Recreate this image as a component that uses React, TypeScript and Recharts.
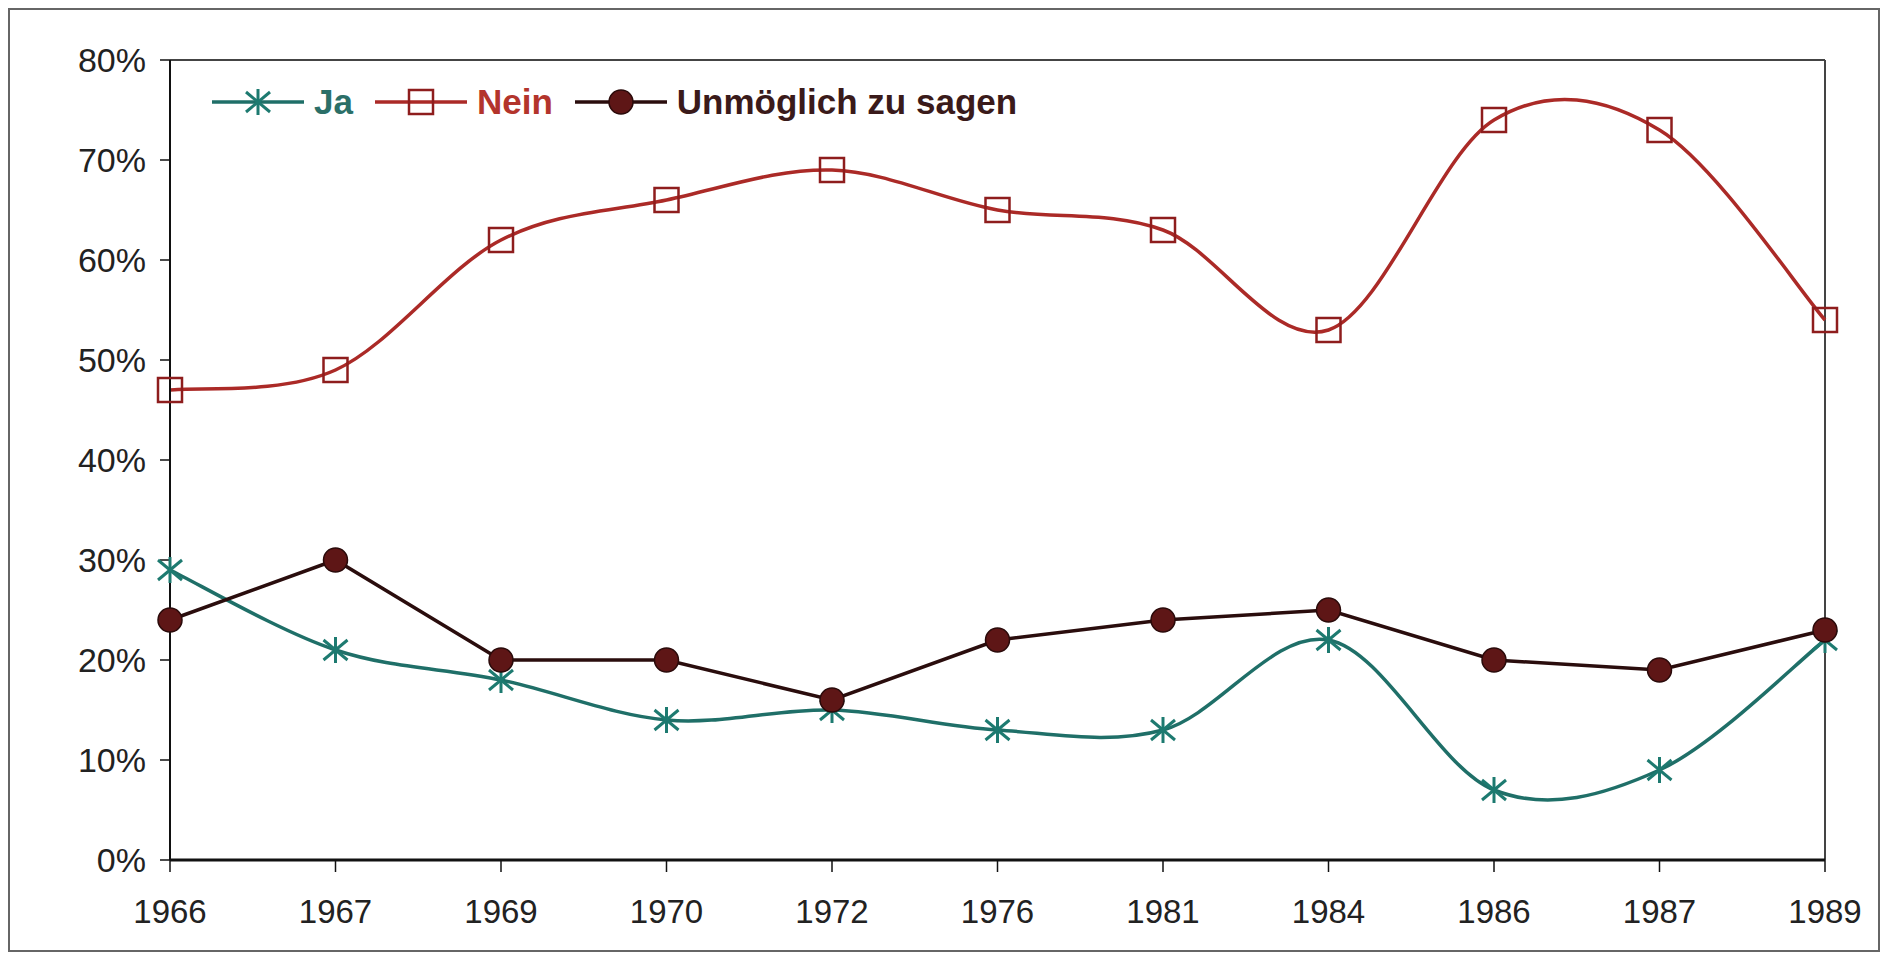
import { LineChart, Line, XAxis, YAxis, Legend, ReferenceLine } from "recharts";

const years = ["1966", "1967", "1969", "1970", "1972", "1976", "1981", "1984", "1986", "1987", "1989"];
const ja = [29, 21, 18, 14, 15, 13, 13, 22, 7, 9, 22];
const nein = [47, 49, 62, 66, 69, 65, 63, 53, 74, 73, 54];
const unmoeglich = [24, 30, 20, 20, 16, 22, 24, 25, 20, 19, 23];
const yTicks = [0, 10, 20, 30, 40, 50, 60, 70, 80];

const data = years.map((year, i) => ({
  year,
  ja: ja[i],
  nein: nein[i],
  unmoeglich: unmoeglich[i],
}));

const FONT = '"Liberation Sans", Arial, sans-serif';

const TEAL = "#1f6f68";
const RED = "#ab2a27";
const BROWN = "#2a0d0d";

// excel-like smoothed line (catmull-rom through the points)
const smoothCurve = (context: any) => {
  let pts: number[][] = [];
  return {
    areaStart() {},
    areaEnd() {},
    lineStart() {
      pts = [];
    },
    point(x: number, y: number) {
      pts.push([+x, +y]);
    },
    lineEnd() {
      if (!pts.length) return;
      context.moveTo(pts[0][0], pts[0][1]);
      for (let i = 0; i < pts.length - 1; i++) {
        const p0 = pts[Math.max(i - 1, 0)];
        const p1 = pts[i];
        const p2 = pts[i + 1];
        const p3 = pts[Math.min(i + 2, pts.length - 1)];
        context.bezierCurveTo(
          p1[0] + (p2[0] - p0[0]) / 6,
          p1[1] + (p2[1] - p0[1]) / 6,
          p2[0] - (p3[0] - p1[0]) / 6,
          p2[1] - (p3[1] - p1[1]) / 6,
          p2[0],
          p2[1]
        );
      }
    },
  };
};

const Asterisk = ({ cx, cy }: { cx: number; cy: number }) => (
  <g stroke="#1d7a70" strokeWidth={3}>
    <line x1={cx} y1={cy - 13} x2={cx} y2={cy + 13} />
    <line x1={cx - 12} y1={cy - 10} x2={cx + 12} y2={cy + 10} />
    <line x1={cx - 12} y1={cy + 10} x2={cx + 12} y2={cy - 10} />
  </g>
);

const Square = ({ cx, cy }: { cx: number; cy: number }) => (
  <rect x={cx - 12} y={cy - 12} width={24} height={24} fill="none" stroke="#8e1d1d" strokeWidth={2.5} />
);

const Dot = ({ cx, cy }: { cx: number; cy: number }) => (
  <circle cx={cx} cy={cy} r={12} fill="#5e1616" stroke="#2a0a0a" strokeWidth={1.5} />
);

const markers: Record<string, any> = { ja: Asterisk, nein: Square, unmoeglich: Dot };
const textColors: Record<string, string> = { ja: "#2b6f68", nein: "#b3342c", unmoeglich: "#3a1a1a" };

const renderMarker = (key: string) => (props: any) => {
  const M = markers[key];
  if (props.cx == null || props.cy == null) return <g key={`${key}-${props.index}`} />;
  return (
    <g key={`${key}-${props.index}`}>
      <M cx={props.cx} cy={props.cy} />
    </g>
  );
};

const LegendContent = ({ payload }: any) => (
  <div style={{ display: "flex", alignItems: "center", fontFamily: FONT, fontWeight: "bold", fontSize: 35 }}>
    {(payload || []).map((entry: any) => {
      const M = markers[entry.dataKey];
      return (
        <div key={entry.dataKey} style={{ display: "flex", alignItems: "center", marginRight: 22 }}>
          <svg width={92} height={34}>
            <line x1={0} y1={17} x2={92} y2={17} stroke={entry.color} strokeWidth={3.5} />
            <M cx={46} cy={17} />
          </svg>
          <span style={{ color: textColors[entry.dataKey], marginLeft: 10, lineHeight: "40px" }}>{entry.value}</span>
        </div>
      );
    })}
  </div>
);

const App = () => {
  return (
    <div
      style={{
        position: "relative",
        width: 1872,
        height: 944,
        border: "2px solid #666",
        boxSizing: "border-box",
        background: "#fff",
      }}
    >
      <LineChart
        width={1866}
        height={936}
        data={data}
        margin={{ top: 50, right: 51, left: 60, bottom: 26 }}
      >
        <ReferenceLine y={80} stroke="#444" strokeWidth={2} />
        <ReferenceLine x="1989" stroke="#444" strokeWidth={2} />
        <XAxis
          dataKey="year"
          height={60}
          tickSize={12}
          tickMargin={28}
          stroke="#111"
          axisLine={{ stroke: "#111", strokeWidth: 3 }}
          tickLine={{ stroke: "#111", strokeWidth: 1.5 }}
          tick={{ fill: "#222", fontSize: 33, fontFamily: FONT }}
          interval={0}
        />
        <YAxis
          width={100}
          domain={[0, 80]}
          ticks={yTicks}
          tickFormatter={(v) => `${v}%`}
          tickSize={10}
          tickMargin={14}
          axisLine={{ stroke: "#111", strokeWidth: 2 }}
          tickLine={{ stroke: "#111", strokeWidth: 1.5 }}
          tick={{ fill: "#222", fontSize: 34, fontFamily: FONT }}
        />
        <Legend
          layout="horizontal"
          verticalAlign="middle"
          align="center"
          content={<LegendContent />}
          wrapperStyle={{ top: 72, left: 202, width: "auto" }}
        />
        <Line
          dataKey="ja"
          name="Ja"
          type={smoothCurve as any}
          stroke={TEAL}
          strokeWidth={3.5}
          dot={renderMarker("ja")}
          activeDot={false}
          isAnimationActive={false}
        />
        <Line
          dataKey="nein"
          name="Nein"
          type={smoothCurve as any}
          stroke={RED}
          strokeWidth={3.5}
          dot={renderMarker("nein")}
          activeDot={false}
          isAnimationActive={false}
        />
        <Line
          dataKey="unmoeglich"
          name="Unmöglich zu sagen"
          type="linear"
          stroke={BROWN}
          strokeWidth={3.5}
          dot={renderMarker("unmoeglich")}
          activeDot={false}
          isAnimationActive={false}
        />
      </LineChart>
    </div>
  );
};

export default App;
